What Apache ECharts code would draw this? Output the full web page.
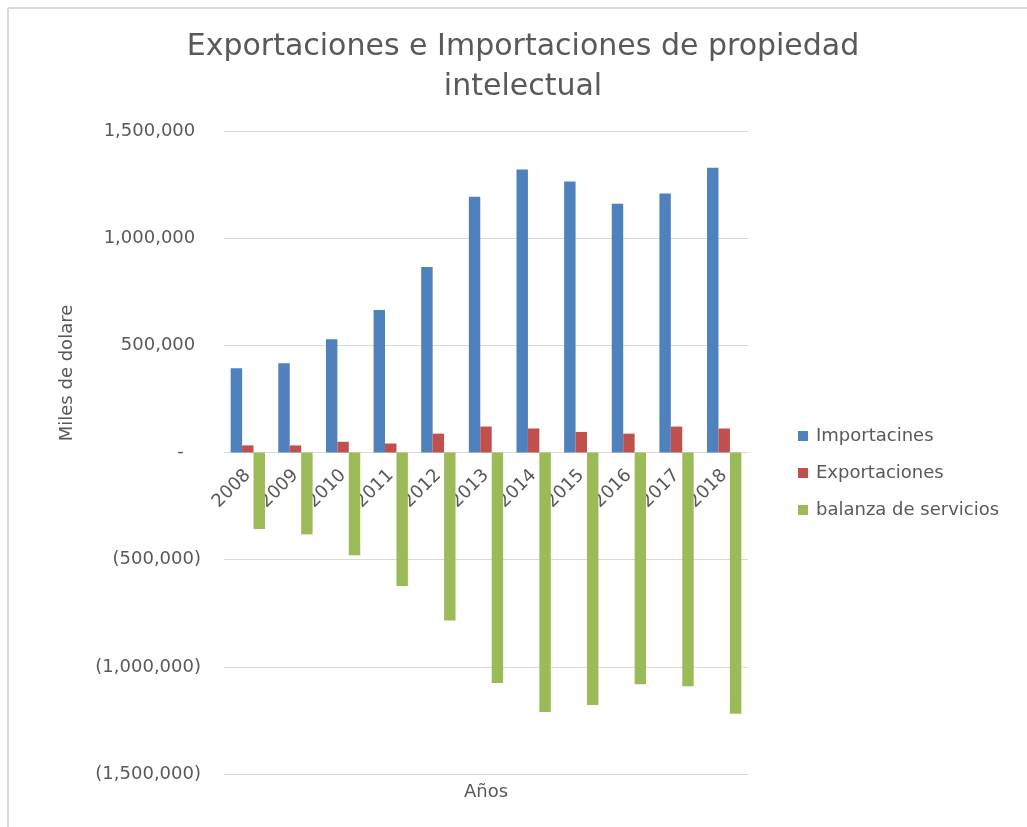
<!DOCTYPE html>
<html>
<head>
<meta charset="utf-8">
<script src="https://cdn.jsdelivr.net/npm/echarts@6/dist/echarts.min.js"></script>
<style>
html,body{margin:0;padding:0;background:#fff;}
#c{width:1027px;height:827px;}
</style>
</head>
<body>
<div id="c"></div>
<script>
const years = ['2008','2009','2010','2011','2012','2013','2014','2015','2016','2017','2018'];
const importaciones = [393000, 416000, 528000, 665000, 865000, 1193000, 1320000, 1264000, 1160000, 1208000, 1328000];
const exportaciones = [33000, 33000, 50000, 42000, 88000, 121000, 112000, 96000, 88000, 121000, 112000];
const balanza = [-357000, -382000, -479000, -623000, -784000, -1075000, -1211000, -1178000, -1081000, -1091000, -1219000];
const seriesNames = ['Importacines', 'Exportaciones', 'balanza de servicios'];

const txt = '#595959';
const font = 'DejaVu Sans';

function fmt(v) {
  if (v === 0) return '-   ';
  const s = Math.abs(v).toLocaleString('en-US');
  return v < 0 ? '(' + s + ')' : s + ' ';
}

const gridTop = 131, gridBottom = 53, H = 827;
const yMin = -1500000, yMax = 1500000;
// distance (px) from grid bottom to the zero line, so the category axis sits on zero
const zeroOffset = -(H - gridTop - gridBottom) * (0 - yMin) / (yMax - yMin);

const chart = echarts.init(document.getElementById('c'), null, {renderer: 'canvas'});
chart.setOption({
  backgroundColor: '#fff',
  animation: false,
  title: {
    text: 'Exportaciones e Importaciones de propiedad\nintelectual',
    left: 523,
    top: 27,
    textAlign: 'center',
    padding: 0,
    textStyle: {fontFamily: font, fontSize: 30, fontWeight: 'normal', color: txt, lineHeight: 40}
  },
  legend: {
    orient: 'vertical',
    left: 793,
    top: 421,
    itemWidth: 10,
    itemHeight: 10,
    itemGap: 17,
    icon: 'rect',
    data: seriesNames,
    textStyle: {fontFamily: font, fontSize: 18, color: txt, lineHeight: 20, padding: [0, 0, 0, 3]}
  },
  grid: {left: 224, right: 279, top: gridTop, bottom: gridBottom, containLabel: false, outerBoundsMode: 'none'},
  xAxis: {
    type: 'category',
    data: years,
    position: 'bottom',
    offset: zeroOffset,
    name: 'Años',
    nameLocation: 'middle',
    nameGap: 331,
    nameTextStyle: {fontFamily: font, fontSize: 18, color: txt},
    axisLine: {onZero: false, lineStyle: {color: '#D9D9D9', width: 1}},
    axisTick: {show: false},
    axisLabel: {rotate: 45, interval: 0, margin: 20, fontFamily: font, fontSize: 18, color: txt}
  },
  yAxis: {
    type: 'value',
    min: yMin,
    max: yMax,
    interval: 500000,
    axisLine: {show: false},
    axisTick: {show: false},
    splitLine: {lineStyle: {color: '#D9D9D9', width: 1}},
    axisLabel: {margin: 23, fontFamily: font, fontSize: 18, color: txt, formatter: fmt}
  },
  series: [
    {name: seriesNames[0], type: 'bar', data: importaciones, barGap: '0%', barCategoryGap: '28%', itemStyle: {color: '#4F81BD'}},
    {name: seriesNames[1], type: 'bar', data: exportaciones, barGap: '0%', barCategoryGap: '28%', itemStyle: {color: '#C0504D'}},
    {name: seriesNames[2], type: 'bar', data: balanza, barGap: '0%', barCategoryGap: '28%', itemStyle: {color: '#9BBB59'}}
  ],
  graphic: [
    {type: 'line', shape: {x1: 8, y1: 8, x2: 1027, y2: 8}, style: {stroke: '#D9D9D9', lineWidth: 2}, silent: true},
    {type: 'line', shape: {x1: 8, y1: 8, x2: 8, y2: 827}, style: {stroke: '#D9D9D9', lineWidth: 2}, silent: true},
    {type: 'text', x: 67, y: 373, rotation: Math.PI / 2,
     style: {text: 'Miles de dolare', fontFamily: font, fontSize: 18, fill: txt, align: 'center', verticalAlign: 'middle'}}
  ]
});
</script>
</body>
</html>
